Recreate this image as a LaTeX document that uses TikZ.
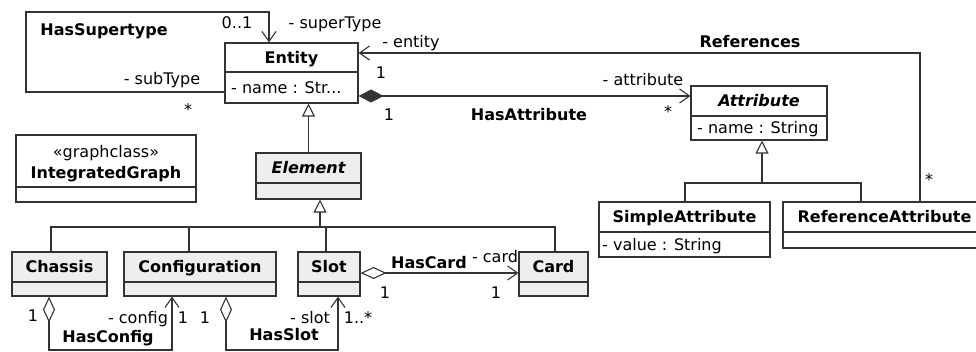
\documentclass[tikz,border=0pt]{standalone}
\usepackage{fontspec}
\setmainfont{DejaVu Sans}
\usetikzlibrary{arrows.meta,fit}
\definecolor{umlline}{HTML}{333333}
\definecolor{umlgray}{HTML}{EEEEEE}
\tikzset{
  ln/.style={draw=umlline, line width=1.1pt},
  boxshape/.style={ln, rectangle, inner sep=0pt},
  lbl/.style={inner sep=0pt, text height=11.6pt, text depth=0pt,
              font=\fontsize{16}{19}\selectfont},
  bl/.style={lbl, font=\fontsize{16}{19}\selectfont\bfseries},
  navi/.style={ln, -{Straight Barb[length=10pt,width=14pt]}},
  gen/.style={ln, -{Triangle[open,length=13pt,width=13pt,fill=white]}},
  comp/.style={ln, {Diamond[length=25pt,width=13pt,fill=umlline]}-{Straight Barb[length=10pt,width=14pt]}},
  aggr/.style={ln, {Diamond[open,length=26pt,width=12pt,fill=white]}-{Straight Barb[length=10pt,width=14pt]}},
}
% class box: name, x1, y1, x2, y2, separator y, fill, title
\newcommand\umlbox[8]{%
  \node[boxshape, fill=#7, fit={(#2,#3)(#4,#5)}] (#1) {};
  \draw[ln] (#2,#6) -- (#4,#6);
  \node[bl] (#1-title) at ({(#2+#4)/2},{(#3+#6)/2}) {#8};
}
\begin{document}
\begin{tikzpicture}[x=1pt,y=-1pt]
\useasboundingbox (0,0) rectangle (976,352);

% classes
\umlbox{entity}{225}{43}{358}{103}{72}{white}{Entity}
\node[lbl, anchor=west] (entity-attr) at (231,87.5) {- name : Str...};
\umlbox{attribute}{691}{86}{827}{140}{116}{white}{\itshape Attribute}
\node[lbl, anchor=west] (attribute-attr) at (697,128) {- name : String};
\umlbox{simpleattr}{599}{202}{770}{257}{232}{white}{SimpleAttribute}
\node[lbl, anchor=west] (simpleattr-attr) at (602,244.5) {- value : String};
\umlbox{refattr}{783}{202}{986}{248}{232}{white}{ReferenceAttribute}
\umlbox{element}{256}{153}{361}{199}{183}{umlgray}{\itshape Element}
\umlbox{chassis}{12}{252}{107}{296}{282}{umlgray}{Chassis}
\umlbox{configuration}{124}{252}{276}{296}{282}{umlgray}{Configuration}
\umlbox{slot}{298}{252}{360}{296}{282}{umlgray}{Slot}
\umlbox{card}{519}{252}{588}{296}{282}{umlgray}{Card}

% graph class box
\node[boxshape, fill=white, fit={(16,135)(196,202)}] (graph) {};
\draw[ln] (16,187) -- (196,187);
\node[lbl] (graph-stereo) at (106,152) {«graphclass»};
\node[bl] (graph-title) at (106,173) {IntegratedGraph};

% generalizations
\draw[gen] (element.north) -- (entity.south -| element.north);
\coordinate (eljn) at (320,227);
\draw[gen] (eljn) -- (element.south -| eljn);
\draw[ln] (51,0 |- chassis.north) |- (555,227) -- (555,0 |- card.north);
\draw[ln] (189,0 |- configuration.north) -- (189,227);
\draw[ln] (326,0 |- slot.north) -- (326,227);
\coordinate (atjn) at (762,183);
\draw[gen] (atjn) -- (attribute.south -| atjn);
\draw[ln] (685,0 |- simpleattr.north) |- (861,183) -- (861,0 |- refattr.north);

% associations
\draw[navi] (entity.west |- 0,92) -- (26,92) -- (26,12) -- (269,12) -- (269,0 |- entity.north);
\draw[navi] (920,0 |- refattr.north) -- (920,53) -- (entity.east |- 0,53);
\draw[comp] (entity.east |- 0,96) -- (attribute.west |- 0,96);
\draw[aggr] (slot.east |- 0,273) -- (card.west |- 0,273);
\draw[aggr] (49,0 |- chassis.south) -- (49,350) -- (172,350) -- (172,0 |- configuration.south);
\draw[aggr] (226,0 |- configuration.south) -- (226,350) -- (338,350) -- (338,0 |- slot.south);

% association labels
\node[bl] (l-hassuper) at (104,30) {HasSupertype};
\node[lbl] (l-super-m) at (237,23) {0..1};
\node[lbl] (l-super-r) at (335,23) {- superType};
\node[lbl] (l-sub-r) at (162,79) {- subType};
\node[lbl] (l-sub-m) at (188,110) {*};

\node[lbl] (l-ent-r) at (411,42) {- entity};
\node[bl] (l-refs) at (750,42) {References};
\node[lbl] (l-ent-m) at (381,73) {1};
\node[lbl] (l-refs-m) at (929,180) {*};

\node[lbl] (l-hasattr-m1) at (389,115) {1};
\node[bl] (l-hasattr) at (529,115) {HasAttribute};
\node[lbl] (l-attr-r) at (643,80) {- attribute};
\node[lbl] (l-attr-m) at (668,112) {*};

\node[bl] (l-hascard) at (429,263) {HasCard};
\node[lbl] (l-card-r) at (495,257) {- card};
\node[lbl] (l-card-m1) at (385,293) {1};
\node[lbl] (l-card-m2) at (496,293) {1};

\node[lbl] (l-chassis-m) at (33,316) {1};
\node[lbl] (l-config-r) at (138,318) {- config};
\node[lbl] (l-config-m) at (183,318) {1};
\node[bl] (l-hasconfig) at (108,337) {HasConfig};

\node[lbl] (l-conf-m) at (205,318) {1};
\node[lbl] (l-slot-r) at (310,318) {- slot};
\node[lbl] (l-slot-m) at (358,318) {1..*};
\node[bl] (l-hasslot) at (284,335) {HasSlot};
\end{tikzpicture}
\end{document}
